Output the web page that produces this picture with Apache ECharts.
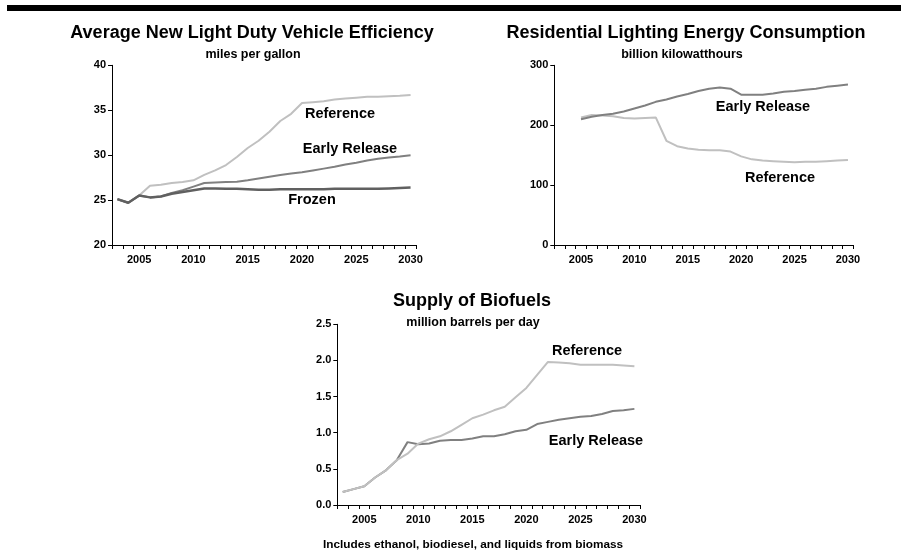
<!DOCTYPE html>
<html>
<head>
<meta charset="utf-8">
<script src="https://cdn.jsdelivr.net/npm/echarts@6/dist/echarts.min.js"></script>
<style>html,body{margin:0;padding:0;background:#fff}#c{width:901px;height:551px}</style>
</head>
<body>
<div id="c"></div>
<script>
// ---- Data ----
const years = [];
for (let y = 2003; y <= 2030; y++) years.push(String(y));

// Chart 1: Average New Light Duty Vehicle Efficiency (mpg), 2003-2030
const mpgReference = [25.1,24.7,25.5,26.6,26.7,26.9,27.0,27.2,27.8,28.3,28.9,29.8,30.8,31.6,32.6,33.8,34.6,35.8,35.9,36.0,36.2,36.3,36.4,36.5,36.5,36.55,36.6,36.7];
const mpgEarly     = [25.1,24.7,25.5,25.3,25.4,25.8,26.1,26.5,26.9,26.95,27.0,27.05,27.2,27.4,27.6,27.8,27.95,28.1,28.3,28.5,28.7,28.95,29.15,29.4,29.6,29.75,29.85,30.0];
const mpgFrozen    = [25.1,24.7,25.5,25.3,25.4,25.7,25.9,26.1,26.3,26.3,26.25,26.25,26.2,26.15,26.15,26.2,26.2,26.2,26.2,26.2,26.25,26.25,26.25,26.25,26.25,26.3,26.35,26.4];

// Chart 2: Residential Lighting Energy Consumption (billion kWh), 2003-2030
const lightEarly     = [null,null,210,214,217,219,223,228,233,239,243,248,252,257,261,263,261,251,251,251,253,256,257,259,261,264,266,268];
const lightReference = [null,null,213,217,216,215,212,211,212,213,174,165,161,159,158,158,156,148,143,141,140,139,138,139,139,140,141,142];

// Chart 3: Supply of Biofuels (million barrels per day), 2003-2030
const bioReference = [0.18,0.22,0.26,0.38,0.48,0.62,0.71,0.85,0.91,0.95,1.02,1.11,1.20,1.25,1.31,1.36,1.49,1.62,1.80,1.98,1.97,1.96,1.94,1.94,1.94,1.94,1.93,1.92];
const bioEarly     = [0.18,0.22,0.26,0.38,0.48,0.62,0.87,0.84,0.85,0.89,0.90,0.90,0.92,0.95,0.95,0.98,1.02,1.04,1.12,1.15,1.18,1.20,1.22,1.23,1.26,1.30,1.31,1.33];

// ---- Styles ----
const FONT = '"Liberation Sans", Arial, sans-serif';
const C_REF = '#c0c0c0', C_ER = '#808080', C_FR = '#606060';

function xAxis(gi) {
  return {
    type: 'category', gridIndex: gi, data: years, boundaryGap: true,
    axisLine: { lineStyle: { color: '#000', width: 1 } },
    axisTick: { show: true, interval: 0, length: 4, lineStyle: { color: '#000' } },
    axisLabel: {
      interval: (i, v) => Number(v) % 5 === 0,
      color: '#000', fontFamily: FONT, fontWeight: 'bold', fontSize: 11, margin: 9
    },
    splitLine: { show: false }
  };
}
function yAxis(gi, min, max, interval, fmt) {
  return {
    type: 'value', gridIndex: gi, min, max, interval,
    axisLine: { show: true, lineStyle: { color: '#000', width: 1 } },
    axisTick: { show: true, length: 4, lineStyle: { color: '#000' } },
    axisLabel: { color: '#000', fontFamily: FONT, fontWeight: 'bold', fontSize: 11, margin: 6, formatter: fmt },
    splitLine: { show: false }
  };
}
function line(name, xi, data, color, width) {
  return {
    name, type: 'line', xAxisIndex: xi, yAxisIndex: xi, data,
    symbol: 'none', showSymbol: false, connectNulls: false, animation: false,
    lineStyle: { color, width }, itemStyle: { color }, z: 2
  };
}
function txt(text, x, y, size) {
  return {
    type: 'text', x, y, silent: true,
    style: {
      text, fill: '#000', font: 'bold ' + size + 'px ' + FONT,
      align: 'center', verticalAlign: 'middle',
      textAlign: 'center', textVerticalAlign: 'middle'
    }
  };
}

const chart = echarts.init(document.getElementById('c'), null, { renderer: 'canvas' });
chart.setOption({
  animation: false,
  backgroundColor: '#fff',
  grid: [
    { left: 112, top: 65.3, width: 304, height: 179.7 },
    { left: 554.3, top: 65.3, width: 299, height: 179.7 },
    { left: 337.3, top: 324.3, width: 302.5, height: 180.7 }
  ],
  xAxis: [xAxis(0), xAxis(1), xAxis(2)],
  yAxis: [
    yAxis(0, 20, 40, 5),
    yAxis(1, 0, 300, 100),
    yAxis(2, 0, 2.5, 0.5, v => v.toFixed(1))
  ],
  series: [
    line('Reference', 0, mpgReference, C_REF, 2),
    line('Early Release', 0, mpgEarly, C_ER, 2),
    line('Frozen', 0, mpgFrozen, C_FR, 2.5),
    line('Reference', 1, lightReference, C_REF, 2),
    line('Early Release', 1, lightEarly, C_ER, 2),
    line('Early Release', 2, bioEarly, C_ER, 2),
    line('Reference', 2, bioReference, C_REF, 2)
  ],
  graphic: [
    { type: 'rect', shape: { x: 7, y: 5, width: 894, height: 6 }, style: { fill: '#000' }, silent: true },
    txt('Average New Light Duty Vehicle Efficiency', 252, 33, 18),
    txt('miles per gallon', 253, 55, 12.5),
    txt('Residential Lighting Energy Consumption', 686, 33, 18),
    txt('billion kilowatthours', 682, 55, 12.5),
    txt('Supply of Biofuels', 472, 301, 18),
    txt('million barrels per day', 473, 323, 12.5),
    txt('Includes ethanol, biodiesel, and liquids from biomass', 473, 545, 11.8),
    txt('Reference', 340, 114, 14.5),
    txt('Early Release', 350, 149, 14.5),
    txt('Frozen', 312, 200, 14.5),
    txt('Early Release', 763, 107, 14.5),
    txt('Reference', 780, 178, 14.5),
    txt('Reference', 587, 351, 14.5),
    txt('Early Release', 596, 441, 14.5)
  ]
});
</script>
</body>
</html>
